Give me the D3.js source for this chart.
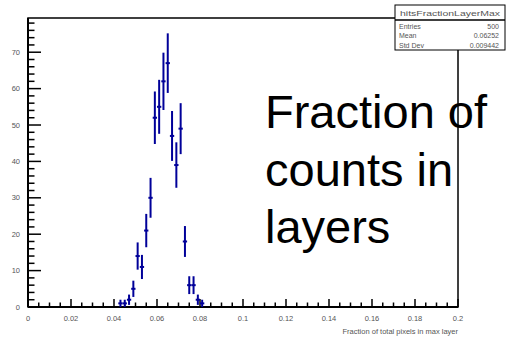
<!DOCTYPE html>
<html>
<head>
<meta charset="utf-8">
<script src="https://cdn.jsdelivr.net/npm/d3@7"></script>
<style>
  html, body { margin: 0; padding: 0; background: #fff; }
  svg { display: block; font-family: "Liberation Sans", Arial, sans-serif; }
</style>
</head>
<body>
<div id="chart"></div>
<script>
// bin centers (bin width 0.002) and counts
const binCenters = [0.043, 0.045, 0.047, 0.049, 0.051, 0.053, 0.055, 0.057, 0.059, 0.061,
  0.063, 0.065, 0.067, 0.069, 0.071, 0.073, 0.075, 0.077, 0.079, 0.081]
const counts = [1, 1, 2, 5, 14, 11, 21, 30, 52, 55, 62, 67, 47, 39, 49, 18, 6, 6, 2, 1]
const binWidth = 0.002

const xTicks = [0, 0.02, 0.04, 0.06, 0.08, 0.1, 0.12, 0.14, 0.16, 0.18, 0.2]
const xTickLabels = ['0', '0.02', '0.04', '0.06', '0.08', '0.1', '0.12', '0.14', '0.16', '0.18', '0.2']
const yTicks = [0, 10, 20, 30, 40, 50, 60, 70]

const statsNames = ['Entries', 'Mean', 'Std Dev']
const statsValues = ['500', '0.06252', '0.009442']
const histName = 'hitsFractionLayerMax'
const titleLines = ['Fraction of', 'counts in', 'layers']
const xTitle = 'Fraction of total pixels in max layer'

const width = 507
const height = 339
const plot = { left: 28, right: 458, top: 18, bottom: 307 }

const svg = d3.select('#chart')
  .append('svg')
  .attr('width', width)
  .attr('height', height)

const x = d3.scaleLinear().domain([0, 0.2]).range([plot.left, plot.right])
const y = d3.scaleLinear().domain([0, 79.4]).range([plot.bottom, plot.top])

// frame
svg.append('rect')
  .attr('x', plot.left)
  .attr('y', plot.top)
  .attr('width', plot.right - plot.left)
  .attr('height', plot.bottom - plot.top)
  .attr('fill', 'none')
  .attr('stroke', '#000')
  .attr('stroke-width', 1.5)

// x axis: major every 0.02, minor every 0.005
const xMinor = d3.range(0, 0.2001, 0.005)
svg.append('g').selectAll('line')
  .data(xMinor)
  .join('line')
  .attr('x1', d => x(d))
  .attr('x2', d => x(d))
  .attr('y1', plot.bottom)
  .attr('y2', (d, i) => plot.bottom - (i % 4 === 0 ? 8 : 4.5))
  .attr('stroke', '#000')
  .attr('stroke-width', 1.5)

svg.append('g').selectAll('text')
  .data(xTicks)
  .join('text')
  .attr('x', d => x(d))
  .attr('y', 321)
  .attr('text-anchor', 'middle')
  .attr('font-size', 7.5)
  .attr('fill', '#555')
  .text((d, i) => xTickLabels[i])

svg.append('text')
  .attr('x', plot.right)
  .attr('y', 334)
  .attr('text-anchor', 'end')
  .attr('font-size', 7.5)
  .attr('fill', '#555')
  .text(xTitle)

// y axis: major every 10, minor every 2
const yMinor = d3.range(0, 79, 2)
svg.append('g').selectAll('line')
  .data(yMinor)
  .join('line')
  .attr('x1', plot.left)
  .attr('x2', (d, i) => plot.left + (i % 5 === 0 ? 13 : 6.5))
  .attr('y1', d => y(d))
  .attr('y2', d => y(d))
  .attr('stroke', '#000')
  .attr('stroke-width', 1.5)

svg.append('g').selectAll('text')
  .data(yTicks)
  .join('text')
  .attr('x', 20)
  .attr('y', d => y(d) + 2.5)
  .attr('text-anchor', 'end')
  .attr('font-size', 7.5)
  .attr('fill', '#555')
  .text(d => d)

// thicker left/bottom axis lines
svg.append('line')
  .attr('x1', plot.left).attr('x2', plot.left)
  .attr('y1', plot.top).attr('y2', plot.bottom)
  .attr('stroke', '#000').attr('stroke-width', 2)
svg.append('line')
  .attr('x1', plot.left).attr('x2', plot.right)
  .attr('y1', plot.bottom).attr('y2', plot.bottom)
  .attr('stroke', '#000').attr('stroke-width', 2)

// error bars
const pts = binCenters.map((c, i) => ({ c, n: counts[i] }))
const marks = svg.append('g').attr('stroke', '#000099').attr('stroke-width', 2)

marks.selectAll('.ev')
  .data(pts)
  .join('line')
  .attr('class', 'ev')
  .attr('x1', d => x(d.c))
  .attr('x2', d => x(d.c))
  .attr('y1', d => y(d.n - Math.sqrt(d.n)))
  .attr('y2', d => y(d.n + Math.sqrt(d.n)))

marks.selectAll('.eh')
  .data(pts)
  .join('line')
  .attr('class', 'eh')
  .attr('x1', d => x(d.c - binWidth / 2))
  .attr('x2', d => x(d.c + binWidth / 2))
  .attr('y1', d => y(d.n))
  .attr('y2', d => y(d.n))

// big title text
svg.append('g').selectAll('text')
  .data(titleLines)
  .join('text')
  .attr('x', 265)
  .attr('y', (d, i) => 128 + i * 57.5)
  .attr('font-size', 47)
  .attr('fill', '#000')
  .text(d => d)

// stats box
const box = { x: 395, y: 5, w: 110, h: 45, titleH: 15 }
const stats = svg.append('g')
stats.append('rect')
  .attr('x', box.x).attr('y', box.y)
  .attr('width', box.w).attr('height', box.h)
  .attr('fill', '#fff').attr('stroke', '#000').attr('stroke-width', 1)
stats.append('line')
  .attr('x1', box.x).attr('x2', box.x + box.w)
  .attr('y1', box.y + box.titleH).attr('y2', box.y + box.titleH)
  .attr('stroke', '#000').attr('stroke-width', 1.5)
stats.append('text')
  .attr('x', box.x + 5)
  .attr('y', box.y + 10.5)
  .attr('font-size', 7.5)
  .attr('textLength', 100)
  .attr('lengthAdjust', 'spacingAndGlyphs')
  .attr('fill', '#555')
  .text(histName)

stats.selectAll('.sn')
  .data(statsNames)
  .join('text')
  .attr('class', 'sn')
  .attr('x', box.x + 4)
  .attr('y', (d, i) => box.y + 23.5 + i * 9.5)
  .attr('font-size', 7)
  .attr('fill', '#555')
  .text(d => d)

stats.selectAll('.sv')
  .data(statsValues)
  .join('text')
  .attr('class', 'sv')
  .attr('x', box.x + box.w - 6)
  .attr('y', (d, i) => box.y + 23.5 + i * 9.5)
  .attr('text-anchor', 'end')
  .attr('font-size', 7)
  .attr('fill', '#555')
  .text(d => d)
</script>
</body>
</html>
